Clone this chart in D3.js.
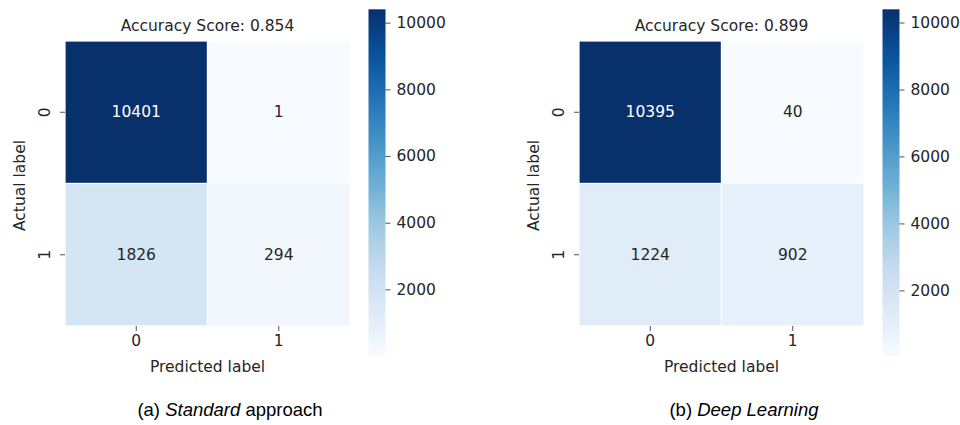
<!DOCTYPE html>
<html>
<head>
<meta charset="utf-8">
<script src="https://cdn.jsdelivr.net/npm/d3@7"></script>
<style>
  html, body { margin: 0; padding: 0; background: #fff; }
  svg { display: block; }
  .lbl { font-family: "DejaVu Sans", sans-serif; fill: #262626; }
  .cap { font-family: "Liberation Sans", Arial, sans-serif; fill: #000; }
</style>
</head>
<body>
<svg id="chart" width="960" height="425"></svg>
<script>
// Confusion matrices (rows: actual label, columns: predicted label)
const classLabels = ["0", "1"];
const standardMatrix = [[10401, 1], [1826, 294]];
const deepMatrix = [[10395, 40], [1224, 902]];
const accuracyScores = [0.854, 0.899];
const colorbarTicks = [2000, 4000, 6000, 8000, 10000];
const captionPrefix = ["(a) ", "(b) "];
const captionItalic = ["Standard", "Deep Learning"];
const captionSuffix = [" approach", ""];

// matplotlib "Blues" colormap: linear segments between the ColorBrewer stops
const bluesStops = ["#f7fbff", "#deebf7", "#c6dbef", "#9ecae1", "#6baed6",
                    "#4292c6", "#2171b5", "#08519c", "#08306b"];
const blues = d3.scaleLinear()
  .domain(d3.range(bluesStops.length).map(i => i / (bluesStops.length - 1)))
  .range(bluesStops)
  .interpolate(d3.interpolateRgb)
  .clamp(true);

const svg = d3.select("#chart");
const defs = svg.append("defs");

const panels = [
  { matrix: standardMatrix, left: 65, cbLeft: 368.5, capX: 230 },
  { matrix: deepMatrix, left: 579, cbLeft: 882.5, capX: 744 }
];
const gridTop = 41, gridSize = 285;
const cbTop = 9.3, cbBottom = 356, cbWidth = 17;
const fontSize = 15.5;

panels.forEach((p, pi) => {
  const flat = p.matrix.flat();
  const vmin = d3.min(flat), vmax = d3.max(flat);
  const norm = d3.scaleLinear().domain([vmin, vmax]).range([0, 1]);
  const color = v => blues(norm(v));

  const x = d3.scaleBand().domain(classLabels).range([p.left, p.left + gridSize]);
  const y = d3.scaleBand().domain(classLabels).range([gridTop, gridTop + gridSize]);

  const g = svg.append("g");

  // cells
  const cells = [];
  p.matrix.forEach((row, ri) => row.forEach((v, ci) => cells.push({ r: classLabels[ri], c: classLabels[ci], v })));

  g.selectAll("rect.cell").data(cells).enter().append("rect")
    .attr("class", "cell")
    .attr("x", d => x(d.c))
    .attr("y", d => y(d.r))
    .attr("width", x.bandwidth())
    .attr("height", y.bandwidth())
    .attr("fill", d => color(d.v))
    .attr("stroke", "#fff")
    .attr("stroke-width", 1.2);

  // annotations: light text on dark cells
  g.selectAll("text.val").data(cells).enter().append("text")
    .attr("class", "lbl")
    .attr("x", d => x(d.c) + x.bandwidth() / 2)
    .attr("y", d => y(d.r) + y.bandwidth() / 2)
    .attr("text-anchor", "middle")
    .attr("dominant-baseline", "central")
    .style("font-size", fontSize + "px")
    .style("fill", d => (d3.lab(color(d.v)).l < 50 ? "#ffffff" : "#262626"))
    .text(d => d.v);

  // x axis
  const xAxis = g.append("g")
    .attr("transform", `translate(0,${gridTop + gridSize})`)
    .call(d3.axisBottom(x).tickSize(5).tickPadding(4));
  xAxis.select(".domain").remove();
  xAxis.selectAll(".tick line").attr("stroke", "#262626").attr("stroke-width", 0.8);
  xAxis.selectAll(".tick text").attr("class", "lbl").attr("fill", "#262626")
    .style("font-size", fontSize + "px").style("font-family", "DejaVu Sans");

  // y axis with rotated tick labels
  const yAxis = g.append("g")
    .attr("transform", `translate(${p.left},0)`)
    .call(d3.axisLeft(y).tickSize(5).tickPadding(0));
  yAxis.select(".domain").remove();
  yAxis.selectAll(".tick line").attr("stroke", "#262626").attr("stroke-width", 0.8);
  yAxis.selectAll(".tick text")
    .attr("class", "lbl").attr("fill", "#262626")
    .style("font-size", fontSize + "px").style("font-family", "DejaVu Sans")
    .attr("x", null).attr("dy", null)
    .attr("text-anchor", "middle")
    .attr("transform", "translate(-20,0) rotate(-90)")
    .attr("dominant-baseline", "central");

  // axis titles
  g.append("text").attr("class", "lbl")
    .attr("x", p.left + gridSize / 2).attr("y", 372)
    .attr("text-anchor", "middle").style("font-size", fontSize + "px")
    .text("Predicted label");
  g.append("text").attr("class", "lbl")
    .attr("transform", `translate(${p.left - 45},${gridTop + gridSize / 2 + 2}) rotate(-90)`)
    .attr("text-anchor", "middle").attr("dominant-baseline", "central")
    .style("font-size", fontSize + "px")
    .text("Actual label");

  // title
  g.append("text").attr("class", "lbl")
    .attr("x", p.left + gridSize / 2).attr("y", 31)
    .attr("text-anchor", "middle").style("font-size", fontSize + "px")
    .text("Accuracy Score: " + accuracyScores[pi].toFixed(3));

  // colorbar
  const gradId = "cb" + pi;
  const grad = defs.append("linearGradient").attr("id", gradId)
    .attr("x1", 0).attr("y1", 1).attr("x2", 0).attr("y2", 0);
  d3.range(0, 1.0001, 0.05).forEach(t => {
    grad.append("stop").attr("offset", t).attr("stop-color", blues(t));
  });
  g.append("rect")
    .attr("x", p.cbLeft).attr("y", cbTop)
    .attr("width", cbWidth).attr("height", cbBottom - cbTop)
    .attr("fill", `url(#${gradId})`);

  const cbScale = d3.scaleLinear().domain([vmin, vmax]).range([cbBottom, cbTop]);
  const cbAxis = g.append("g")
    .attr("transform", `translate(${p.cbLeft + cbWidth},0)`)
    .call(d3.axisRight(cbScale).tickValues(colorbarTicks).tickFormat(d3.format("d"))
      .tickSize(5).tickPadding(6));
  cbAxis.select(".domain").remove();
  cbAxis.selectAll(".tick line").attr("stroke", "#262626").attr("stroke-width", 0.8);
  cbAxis.selectAll(".tick text").attr("class", "lbl").attr("fill", "#262626")
    .style("font-size", fontSize + "px").style("font-family", "DejaVu Sans");

  // caption
  const cap = svg.append("text").attr("class", "cap")
    .attr("x", p.capX).attr("y", 416)
    .attr("text-anchor", "middle").style("font-size", "18.5px");
  cap.append("tspan").text(captionPrefix[pi]);
  cap.append("tspan").style("font-style", "italic").text(captionItalic[pi]);
  cap.append("tspan").text(captionSuffix[pi]);
});
</script>
</body>
</html>
